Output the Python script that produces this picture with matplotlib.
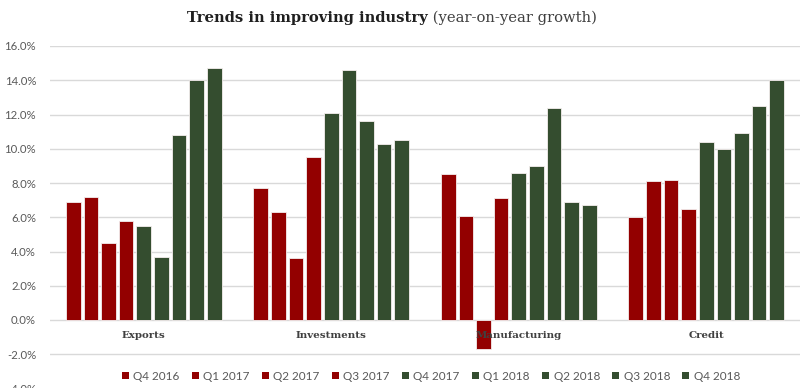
import matplotlib
matplotlib.use("Agg")
import matplotlib.pyplot as plt
from matplotlib.patches import Patch
from matplotlib.ticker import FuncFormatter, FixedLocator
import numpy as np

categories = ["Exports", "Investments", "Manufacturing", "Credit"]
quarters = ["Q4 2016", "Q1 2017", "Q2 2017", "Q3 2017", "Q4 2017",
            "Q1 2018", "Q2 2018", "Q3 2018", "Q4 2018"]

# growth (%) per quarter, one value per category
q4_2016 = [6.9, 7.7, 8.5, 6.0]
q1_2017 = [7.2, 6.3, 6.1, 8.1]
q2_2017 = [4.5, 3.6, -1.7, 8.2]
q3_2017 = [5.8, 9.5, 7.1, 6.5]
q4_2017 = [5.5, 12.1, 8.6, 10.4]
q1_2018 = [3.7, 14.6, 9.0, 10.0]
q2_2018 = [10.8, 11.6, 12.4, 10.9]
q3_2018 = [14.0, 10.3, 6.9, 12.5]
q4_2018 = [14.7, 10.5, 6.7, 14.0]

series = [q4_2016, q1_2017, q2_2017, q3_2017, q4_2017,
          q1_2018, q2_2018, q3_2018, q4_2018]

y_ticks = np.arange(-4, 16.1, 2)

RED = "#930000"
GREEN = "#344D2F"
colors = [RED] * 4 + [GREEN] * 5

GRID = "#d9d9d9"
TXT = "#595959"

fig = plt.figure(figsize=(8.0, 3.88), dpi=100)
ax = fig.add_axes([50 / 800, -0.5 / 388, 750 / 800, 342.5 / 388])

# horizontal gridlines behind the bars (axis labels stay on top)
for yv in y_ticks:
    ax.axhline(yv, color=GRID, linewidth=1.0, zorder=0)

x = np.arange(len(categories))
slot = 0.094
width = 0.078
for j, (vals, c, lab) in enumerate(zip(series, colors, quarters)):
    ax.bar(x + (j - 4) * slot, vals, width=width, color=c,
           edgecolor="#f4eeee", linewidth=0.6, label=lab, zorder=1)

ax.set_xlim(-0.5, 3.5)
ax.set_ylim(-4, 16)
ax.yaxis.set_major_locator(FixedLocator(y_ticks))
ax.yaxis.set_major_formatter(FuncFormatter(lambda v, p: f"{v:.1f}%"))

for s in ["top", "right", "left", "bottom"]:
    ax.spines[s].set_visible(False)
ax.spines["bottom"].set_position(("data", 0))

ax.tick_params(axis="y", length=0, pad=10, labelsize=8.2, labelcolor=TXT)
for t in ax.get_yticklabels():
    t.set_fontfamily("Lato")

ax.set_xticks(x)
ax.set_xticklabels(categories, fontfamily="DejaVu Serif", fontweight="bold",
                   fontsize=7.4, color="#404040")
ax.tick_params(axis="x", length=0, pad=8)

handles = [Patch(facecolor=c, edgecolor="none") for c in colors]
fig.legend(handles, quarters, loc="center", bbox_to_anchor=(431 / 800, 1 - 376 / 388),
           ncol=9, frameon=False, handlelength=0.6, handleheight=0.6,
           handletextpad=0.35, columnspacing=1.05,
           prop={"family": "Lato", "size": 8.5}, labelcolor=TXT)

fig.text(428 / 800, 1 - 18 / 388, "Trends in improving industry", ha="right", va="center",
         fontfamily="DejaVu Serif", fontweight="bold", fontsize=10.6, color="#1f1f1f")
fig.text(428 / 800, 1 - 18 / 388, " (year-on-year growth)", ha="left", va="center",
         fontfamily="DejaVu Serif", fontsize=10.6, color="#404040")

fig.savefig("out.png", dpi=100)
